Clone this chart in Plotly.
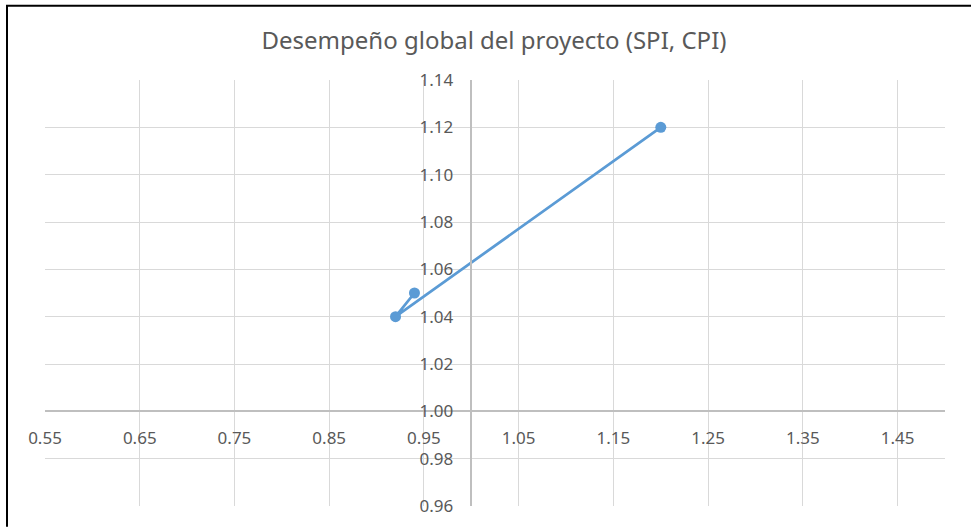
import plotly.graph_objects as go

# Project performance indices, in reporting order
spi = [0.94, 0.92, 1.20]
cpi = [1.05, 1.04, 1.12]

x_range = [0.55, 1.50]
y_range = [0.96, 1.14]
cross_x = 1.00  # vertical axis crosses here
cross_y = 1.00  # horizontal axis crosses here

title_text = "Desempeño global del proyecto (SPI, CPI)"

W, H = 971, 529
ML, MR, MT, MB = 45, 26, 80, 19
pw, ph = W - ML - MR, H - MT - MB

def px_to_paper_x(px):
    return (px - ML) / pw

def px_to_paper_y(py):
    return (H - MB - py) / ph

font_family = "Noto Sans, Open Sans, sans-serif"
label_color = "#595959"
grid_color = "#D9D9D9"
axis_color = "#BFBFBF"
series_color = "#5B9BD5"

fig = go.Figure()
fig.add_trace(go.Scatter(
    x=spi, y=cpi,
    mode="lines+markers",
    line=dict(color=series_color, width=2.75),
    marker=dict(color=series_color, size=11),
    showlegend=False,
    hoverinfo="x+y",
))

xpos = (cross_y - y_range[0]) / (y_range[1] - y_range[0])
ypos = (cross_x - x_range[0]) / (x_range[1] - x_range[0])

fig.update_layout(
    width=W, height=H,
    margin=dict(l=ML, r=MR, t=MT, b=MB, pad=0),
    paper_bgcolor="white",
    plot_bgcolor="white",
    title=dict(
        text=title_text,
        x=px_to_paper_x(494), xref="paper", xanchor="center",
        y=1 - 41 / H, yref="container", yanchor="middle",
        font=dict(family=font_family, size=24, color=label_color),
    ),
    xaxis=dict(
        range=x_range,
        tick0=0.55, dtick=0.1, tickformat=".2f",
        showgrid=True, gridcolor=grid_color, gridwidth=1.3,
        zeroline=False,
        showline=True, linecolor=axis_color, linewidth=1.5,
        anchor="free", position=xpos,
        ticks="", ticklabelstandoff=12,
        tickfont=dict(family=font_family, size=17, color=label_color),
    ),
    yaxis=dict(
        range=y_range,
        tick0=0.96, dtick=0.02, tickformat=".2f",
        showgrid=True, gridcolor=grid_color, gridwidth=1.3,
        zeroline=False,
        showline=True, linecolor=axis_color, linewidth=1.5,
        anchor="free", position=ypos,
        ticks="", ticklabelstandoff=14,
        tickfont=dict(family=font_family, size=17, color=label_color),
    ),
)

# Outer chart frame (left and top edges)
frame = dict(type="line", xref="paper", yref="paper",
             line=dict(color="black", width=2), layer="above")
fig.add_shape(**frame, x0=px_to_paper_x(7), x1=px_to_paper_x(7),
              y0=px_to_paper_y(5), y1=px_to_paper_y(H + 2))
fig.add_shape(**frame, x0=px_to_paper_x(6), x1=px_to_paper_x(W + 2),
              y0=px_to_paper_y(5), y1=px_to_paper_y(5))

fig.write_html("out.html")
